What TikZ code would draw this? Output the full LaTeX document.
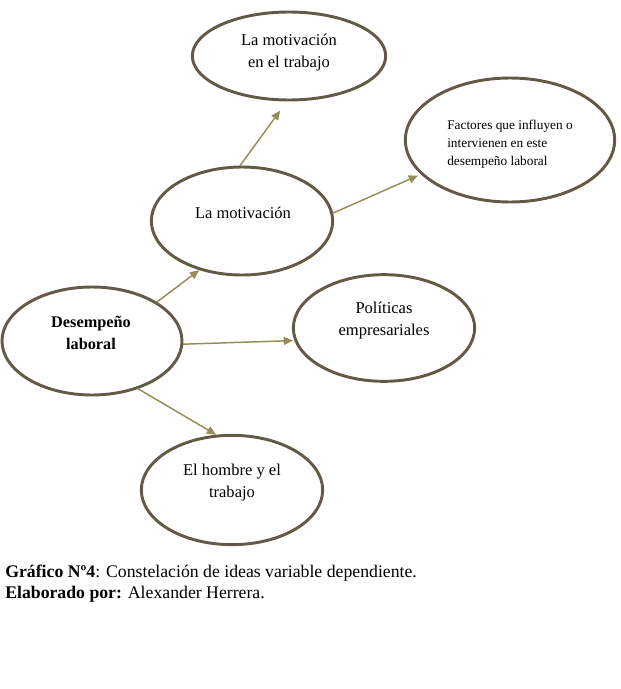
\documentclass[tikz,border=0pt]{standalone}
\usepackage{fontspec}
\setmainfont{Liberation Serif}
\usetikzlibrary{shapes.geometric,arrows.meta}
\definecolor{borde}{RGB}{98,90,68}
\definecolor{flecha}{RGB}{150,140,88}

\begin{document}
\begin{tikzpicture}[x=0.75pt, y=-0.75pt, >={Triangle[length=7pt,width=6pt]}, line join=round, line cap=round,
    idea/.style={ellipse, draw=borde, line width=2.2pt, fill=white},
    texto/.style={align=center, font=\fontsize{12.4}{16.5}\selectfont, inner sep=0pt},
    flechita/.style={->, draw=flecha, fill=flecha, line width=1.1pt}]
    \useasboundingbox (0,0) rectangle (621,689);
    % centros de las elipses
    \coordinate (P1) at (289,56);
    \coordinate (P2) at (510,140);
    \coordinate (P3) at (242,221);
    \coordinate (P4) at (92,341);
    \coordinate (P5) at (384,328);
    \coordinate (P6) at (232,490);
    
    % elipses
    \node[idea, minimum width=145pt, minimum height=66pt] (trabajo) at (P1) {};
    \node[idea, minimum width=157pt, minimum height=93pt] (factores) at (P2) {};
    \node[idea, minimum width=136pt, minimum height=81pt] (motiv) at (P3) {};
    \node[idea, minimum width=135pt, minimum height=81pt] (desemp) at (P4) {};
    \node[idea, minimum width=136pt, minimum height=80pt] (politicas) at (P5) {};
    \node[idea, minimum width=136pt, minimum height=82pt] (hombre) at (P6) {};
    
    % textos
    \node[texto] (tTrabajo) at (289,53) {La motivación\\en el trabajo};
    \node[texto, anchor=west, align=left, font=\fontsize{10}{13.5}\selectfont] (tFactores) at (447,144)
        {Factores que influyen o\\intervienen en este\\desempeño laboral};
    \node[texto] (tMotiv) at (243,213) {La motivación};
    \node[texto, font=\fontsize{12.2}{16.5}\selectfont\bfseries] (tDesemp) at (91,333) {Desempeño\\laboral};
    \node[texto] (tPoliticas) at (384,321) {Políticas\\empresariales};
    \node[texto] (tHombre) at (232,483) {El hombre y el\\trabajo};
    
    % flechas
    \draw[flechita] (desemp.31) -- (motiv.-131);
    \draw[flechita] (desemp.-2) -- ([xshift=-1pt]politicas.-172);
    \draw[flechita] (desemp.-46) -- (hombre.106);
    \draw[flechita] (motiv.92) -- ([yshift=-7pt]trabajo.-101);
    \draw[flechita] (motiv.5) -- ([xshift=-3pt]factores.-158);
    
    % pie del grafico
    \node[anchor=base west, inner sep=0pt, font=\fontsize{13.3}{15}\selectfont] (pie1) at (5,577)
        {\textbf{Gráfico Nº4}: Constelación de ideas variable dependiente.};
    \node[anchor=base west, inner sep=0pt, font=\fontsize{13.3}{15}\selectfont] (pie2) at (5,598)
        {\textbf{Elaborado por:} Alexander Herrera.};
\end{tikzpicture}
\end{document}
